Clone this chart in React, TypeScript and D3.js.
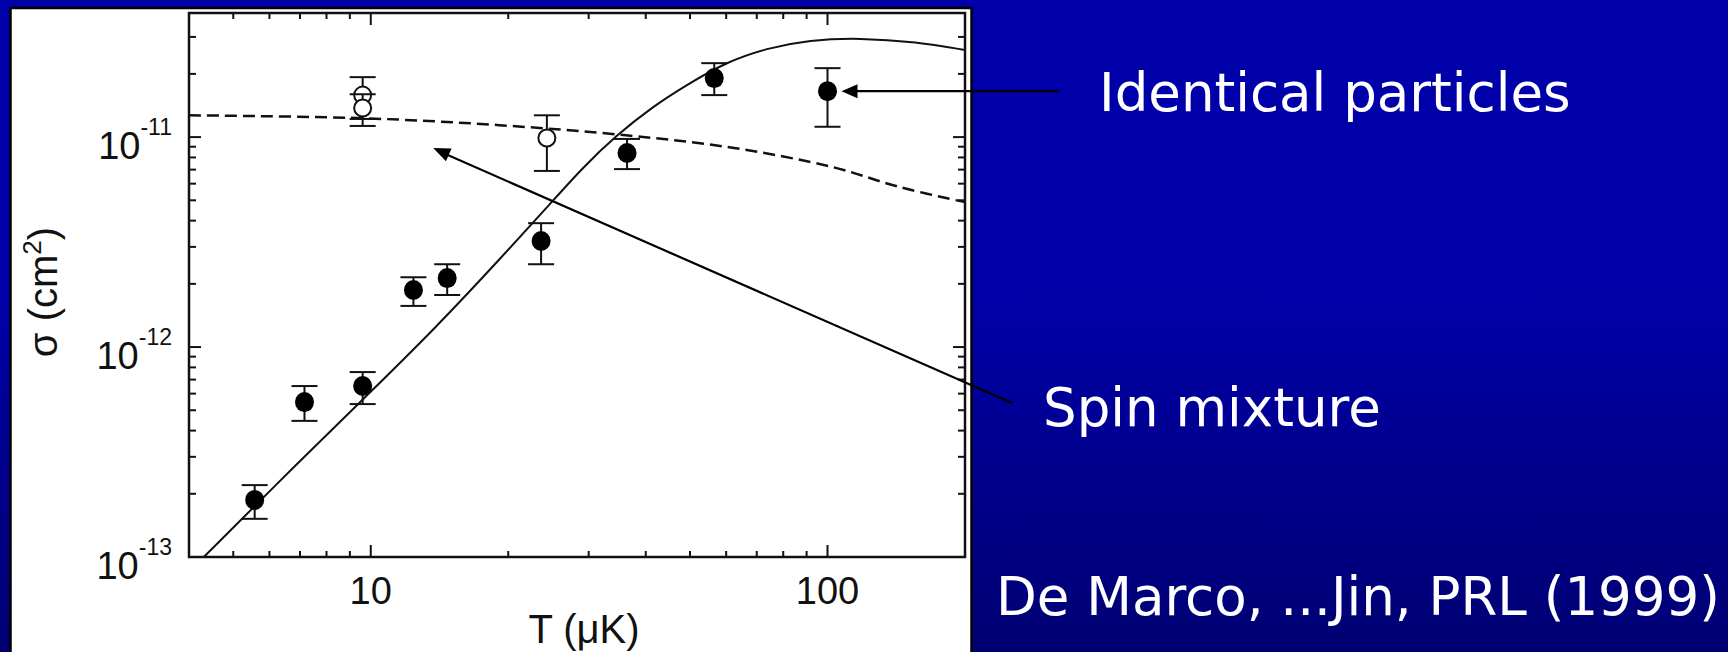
import React from 'react';
import { scaleLog, line, curveCatmullRom, curveBasis } from 'd3';

// filled circles: identical particles
const tempFilled = [5.57, 7.16, 9.6, 12.4, 14.7, 23.6, 36.4, 56.5, 100];
const sigmaFilled = [1.87e-13, 5.47e-13, 6.52e-13, 1.87e-12, 2.13e-12, 3.2e-12, 8.4e-12, 1.91e-11, 1.655e-11];
const hiFilled = [2.2e-13, 6.52e-13, 7.6e-13, 2.15e-12, 2.48e-12, 3.89e-12, 9.8e-12, 2.25e-11, 2.13e-11];
const loFilled = [1.52e-13, 4.45e-13, 5.35e-13, 1.57e-12, 1.77e-12, 2.48e-12, 7.04e-12, 1.585e-11, 1.12e-11];

// open circles: spin mixture
const tempOpen = [9.6, 9.6, 24.3];
const sigmaOpen = [1.585e-11, 1.375e-11, 9.9e-12];
const hiOpen = [1.93e-11, 1.6e-11, 1.27e-11];
const loOpen = [1.22e-11, 1.13e-11, 6.9e-12];

// theory curves
const idealT = [4.31, 6.95, 9.75, 13.9, 19.1, 24.9, 29.0, 34.5, 41.3, 49.1, 60.1, 73.5, 91.3, 117.4, 156.7, 200];
const idealSigma = [1e-13, 2.83e-13, 5.8e-13, 1.24e-12, 2.6e-12, 4.9e-12, 7.1e-12, 1.02e-11, 1.39e-11, 1.77e-11, 2.28e-11, 2.65e-11, 2.9e-11, 2.97e-11, 2.84e-11, 2.6e-11];
const mixT = [4, 9.6, 19.1, 36.2, 61.9, 102.5, 143.9, 200];
const mixSigma = [1.27e-11, 1.23e-11, 1.14e-11, 1.02e-11, 8.9e-12, 7.2e-12, 5.78e-12, 4.9e-12];

const xLabels = ['10', '100'];
const yExponents = ['-13', '-12', '-11'];

// arrow targets in data units
const identicalTip = [100, 1.655e-11];
const spinTip = [13.7, 8.87e-12];

const W = 1728;
const H = 652;
const plot = { left: 189, right: 965, top: 13, bottom: 557 };
const tickFont = "'Liberation Sans', Arial, Helvetica, sans-serif";
const slideFont = "'DejaVu Sans', Verdana, sans-serif";

const x = scaleLog().domain([4, 200]).range([plot.left, plot.right]);
const y = scaleLog().domain([1e-13, 3.9e-11]).range([plot.bottom, plot.top]);

const isMajor = (v: number) => Math.abs(Math.log10(v) - Math.round(Math.log10(v))) < 1e-9;

const arrowHead = (tx: number, ty: number, fx: number, fy: number, len = 16, half = 7) => {
  const a = Math.atan2(ty - fy, tx - fx);
  const bx = tx - len * Math.cos(a);
  const by = ty - len * Math.sin(a);
  const px = -Math.sin(a) * half;
  const py = Math.cos(a) * half;
  return `${tx},${ty} ${bx + px},${by + py} ${bx - px},${by - py}`;
};

const ErrorBar = ({ t, hi, lo }: { t: number; hi: number; lo: number }) => {
  const cx = x(t);
  return (
    <g stroke="#111" strokeWidth={2}>
      <line x1={cx} x2={cx} y1={y(hi)} y2={y(lo)} />
      <line x1={cx - 13} x2={cx + 13} y1={y(hi)} y2={y(hi)} />
      <line x1={cx - 13} x2={cx + 13} y1={y(lo)} y2={y(lo)} />
    </g>
  );
};

const App = () => {
  const xTicks = x.ticks();
  const yTicks = y.ticks();
  const idealPath = line<number>()
    .x((d, i) => x(idealT[i]))
    .y((d) => y(d))
    .curve(curveBasis)(idealSigma);
  const mixPath = line<number>()
    .x((d, i) => x(mixT[i]))
    .y((d) => y(d))
    .curve(curveCatmullRom.alpha(0.5))(mixSigma);

  const idX = x(identicalTip[0]) + 14;
  const idY = y(identicalTip[1]);
  const idTail = [1059, idY];
  const spX = x(spinTip[0]);
  const spY = y(spinTip[1]);
  const spTail = [1012, 403];

  return (
    <svg width={W} height={H} style={{ position: 'absolute', left: 0, top: 0, display: 'block' }}>
      <defs>
        <linearGradient id="bg" x1="0" y1="0" x2="0" y2="1">
          <stop offset="0" stopColor="#0000AA" />
          <stop offset="0.45" stopColor="#0000A8" />
          <stop offset="1" stopColor="#000072" />
        </linearGradient>
        <clipPath id="plotClip">
          <rect x={plot.left} y={plot.top} width={plot.right - plot.left} height={plot.bottom - plot.top} />
        </clipPath>
      </defs>
      <rect x={0} y={0} width={W} height={H} fill="url(#bg)" />
      <rect x={10.5} y={8} width={961} height={H} fill="#fff" stroke="#000" strokeWidth={2.5} />

      {/* axes frame */}
      <rect
        x={plot.left}
        y={plot.top}
        width={plot.right - plot.left}
        height={plot.bottom - plot.top}
        fill="none"
        stroke="#111"
        strokeWidth={2.5}
      />
      <g stroke="#111" strokeWidth={2}>
        {xTicks.map((t, i) => {
          const len = isMajor(t) ? 12 : 6;
          return (
            <g key={'x' + i}>
              <line x1={x(t)} x2={x(t)} y1={plot.bottom} y2={plot.bottom - len} />
              <line x1={x(t)} x2={x(t)} y1={plot.top} y2={plot.top + len} />
            </g>
          );
        })}
        {yTicks.map((t, i) => {
          const len = isMajor(t) ? 12 : 7;
          return (
            <g key={'y' + i}>
              <line x1={plot.left} x2={plot.left + len} y1={y(t)} y2={y(t)} />
              <line x1={plot.right} x2={plot.right - len} y1={y(t)} y2={y(t)} />
            </g>
          );
        })}
      </g>

      {/* tick labels */}
      <g fontFamily={tickFont} fill="#111">
        {xTicks.filter(isMajor).map((t, i) => (
          <text key={'xl' + i} x={x(t)} y={plot.bottom + 47} fontSize={38} textAnchor="middle">
            {xLabels[i]}
          </text>
        ))}
        {yTicks.filter(isMajor).map((t, i) => (
          <text key={'yl' + i} x={172} y={y(t) + 22} fontSize={38} textAnchor="end">
            10
            <tspan fontSize={23} dy={-24}>
              {yExponents[i]}
            </tspan>
          </text>
        ))}
        <text x={584} y={643} fontSize={40} textAnchor="middle">
          T (μK)
        </text>
        <text transform="translate(57,292) rotate(-90)" fontSize={40} textAnchor="middle">
          σ (cm<tspan fontSize={26} dy={-16}>2</tspan>
          <tspan dy={16}>)</tspan>
        </text>
      </g>

      {/* theory curves */}
      <g clipPath="url(#plotClip)" fill="none" stroke="#111">
        <path d={idealPath ?? ''} strokeWidth={2} />
        <path d={mixPath ?? ''} strokeWidth={2.5} strokeDasharray="12 6" />
      </g>

      {/* data */}
      {tempFilled.map((t, i) => (
        <ErrorBar key={'ef' + i} t={t} hi={hiFilled[i]} lo={loFilled[i]} />
      ))}
      {tempFilled.map((t, i) => (
        <ellipse key={'pf' + i} cx={x(t)} cy={y(sigmaFilled[i])} rx={9.5} ry={10} fill="#000" />
      ))}
      {tempOpen.map((t, i) => (
        <g key={'po' + i}>
          <ErrorBar t={t} hi={hiOpen[i]} lo={loOpen[i]} />
          <circle cx={x(t)} cy={y(sigmaOpen[i])} r={8.5} fill="#fff" stroke="#111" strokeWidth={2} />
        </g>
      ))}

      {/* annotations */}
      <g stroke="#000" strokeWidth={2.2}>
        <line x1={idTail[0]} y1={idTail[1]} x2={idX + 12} y2={idY} />
        <line x1={spTail[0]} y1={spTail[1]} x2={spX + 10} y2={spY + 5} />
      </g>
      <polygon points={arrowHead(idX, idY, idTail[0], idTail[1])} fill="#000" />
      <polygon points={arrowHead(spX, spY, spTail[0], spTail[1], 17, 7)} fill="#000" />

      <g fontFamily={slideFont} fill="#fff" fontSize={53}>
        <text x={1099} y={111}>Identical particles</text>
        <text x={1043} y={426}>Spin mixture</text>
        <text x={996} y={615}>De Marco, ...Jin, PRL (1999)</text>
      </g>
    </svg>
  );
};

export default App;
